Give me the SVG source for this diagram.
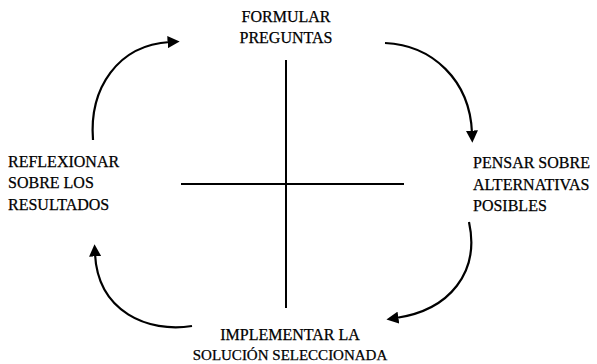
<svg xmlns="http://www.w3.org/2000/svg" width="597" height="364" viewBox="0 0 597 364">
<style>
text{font-family:"Liberation Serif","Times New Roman",serif;font-size:16px;fill:#000;stroke:#000;stroke-width:0.25}
.arc{fill:none;stroke:#000;stroke-width:2.2}
.ax{stroke:#000;stroke-width:2}
</style>
<defs>
<marker id="ah" viewBox="0 0 10 10" refX="2" refY="5" markerWidth="5.5" markerHeight="5.5" orient="auto" markerUnits="strokeWidth">
<path d="M0,0 L10,5 L0,10 z" fill="#000"/>
</marker>
</defs>
<rect width="597" height="364" fill="#fff"/>
<g id="axes">
<line class="ax" x1="286" y1="60" x2="286" y2="308"/>
<line class="ax" x1="181" y1="184" x2="404" y2="184"/>
</g>
<g id="connectors">
<path class="arc" d="M93,140 C89,88 118,45 170,42" marker-end="url(#ah)"/>
<path class="arc" d="M385,43 C432,45 470,80 472,133" marker-end="url(#ah)"/>
<path class="arc" d="M469,222 C480,272 450,310 396,318" marker-end="url(#ah)"/>
<path class="arc" d="M192,326 C148,333 98,312 95,254" marker-end="url(#ah)"/>
</g>
<g id="formular">
<text x="286" y="22" text-anchor="middle">FORMULAR</text>
<text x="286" y="43" text-anchor="middle">PREGUNTAS</text>
</g>
<g id="pensar">
<text x="473" y="168">PENSAR SOBRE</text>
<text x="473" y="190">ALTERNATIVAS</text>
<text x="473" y="211">POSIBLES</text>
</g>
<g id="implementar">
<text x="290" y="340" text-anchor="middle">IMPLEMENTAR LA</text>
<text x="290" y="360" text-anchor="middle" style="font-size:15px">SOLUCIÓN SELECCIONADA</text>
</g>
<g id="reflexionar">
<text x="8" y="167">REFLEXIONAR</text>
<text x="8" y="188">SOBRE LOS</text>
<text x="8" y="210">RESULTADOS</text>
</g>
</svg>
